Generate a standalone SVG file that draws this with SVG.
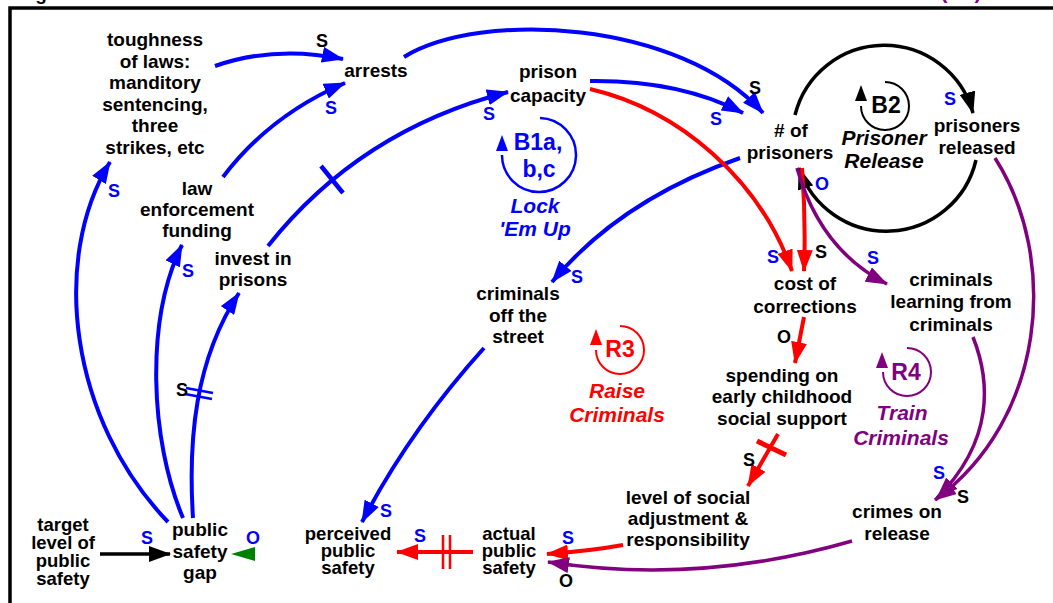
<svg xmlns="http://www.w3.org/2000/svg" width="1053" height="603" viewBox="0 0 1053 603">
<style>
text{font-family:"Liberation Sans",Arial,Helvetica,sans-serif;font-weight:bold;text-anchor:middle}
.n{font-size:19px;fill:#000}
.t{font-size:18.5px}
.lb{font-size:18px}
.lp{font-size:23px}
.it{font-size:21px;font-style:italic}
.kb{fill:#0000ff}.kk{fill:#000}.kr{fill:#ff0000}.kp{fill:#800080}
.cb{stroke:#0000ff;stroke-width:4;fill:none}
.cr{stroke:#ff0000;stroke-width:4;fill:none}
.cp{stroke:#800080;stroke-width:3.5;fill:none}
.ck{stroke:#000;stroke-width:3.5;fill:none}
</style>
<defs>
<marker id="mb" markerUnits="userSpaceOnUse" markerWidth="22" markerHeight="16" viewBox="0 0 22 16" refX="21" refY="8" orient="auto"><path d="M0,0 L22,8 L0,16 z" fill="#0000ff"/></marker>
<marker id="mr" markerUnits="userSpaceOnUse" markerWidth="22" markerHeight="16" viewBox="0 0 22 16" refX="21" refY="8" orient="auto"><path d="M0,0 L22,8 L0,16 z" fill="#ff0000"/></marker>
<marker id="mp" markerUnits="userSpaceOnUse" markerWidth="22" markerHeight="16" viewBox="0 0 22 16" refX="21" refY="8" orient="auto"><path d="M0,0 L22,8 L0,16 z" fill="#800080"/></marker>
<marker id="mk" markerUnits="userSpaceOnUse" markerWidth="22" markerHeight="16" viewBox="0 0 22 16" refX="21" refY="8" orient="auto"><path d="M0,0 L22,8 L0,16 z" fill="#000"/></marker>
</defs>
<rect width="1053" height="603" fill="#fff"/>
<rect x="10" y="8" width="1100" height="700" fill="none" stroke="#000" stroke-width="3.5"/>
<text x="41" y="0" class="n">g</text>
<text x="961" y="-1" class="n kp" style="font-size:21px">(R4)</text>

<g id="connectors">
<path class="cb" d="M215,66 Q275,45 343,59" marker-end="url(#mb)"/>
<path class="cb" d="M223,177 Q270,115 345,83" marker-end="url(#mb)"/>
<path class="cb" d="M404,57 C480,10 680,20 763,113" marker-end="url(#mb)"/>
<path class="cb" d="M590,81 Q680,80 743,113" marker-end="url(#mb)"/>
<path class="cb" d="M268,246 Q360,130 508,92" marker-end="url(#mb)"/>
<path d="M321,166 L343,193" stroke="#0000ff" stroke-width="4.5"/>
<path class="cb" d="M168,522 C70,420 50,260 110,162" marker-end="url(#mb)"/>
<path class="cb" d="M183,518 C150,440 145,320 182,245" marker-end="url(#mb)"/>
<path class="cb" d="M193,518 C188,440 195,360 239,293" marker-end="url(#mb)"/>
<path d="M186,388 L213,393 M185,394 L212,399" stroke="#0000ff" stroke-width="2.5"/>
<path class="cb" d="M740,158 Q620,200 552,282" marker-end="url(#mb)"/>
<path class="cb" d="M484,348 Q410,430 362,522" marker-end="url(#mb)"/>

<path class="ck" d="M795,115 A92,92 0 0 1 973,113" marker-end="url(#mk)"/>
<path class="ck" d="M976,160 A92,92 0 0 1 799,168" marker-end="url(#mk)"/>
<path class="ck" d="M100,554 L170,554" marker-end="url(#mk)"/>
<polygon points="231,554 255,547 255,561" fill="#008000"/>

<path class="cr" d="M473,552 L397,552" marker-end="url(#mr)"/>
<path d="M443,535 L443,569 M450,535 L450,569" stroke="#ff0000" stroke-width="2.5"/>
<path class="cr" d="M623,545 Q590,551 547,554" marker-end="url(#mr)"/>
<path class="cr" d="M778,434 L748,486" marker-end="url(#mr)"/>
<path d="M757,441 L786,455" stroke="#ff0000" stroke-width="5"/>
<path class="cr" d="M804,317 L795,363" marker-end="url(#mr)"/>
<path class="cr" d="M590,89 C680,110 760,180 792,271" marker-end="url(#mr)"/>
<path class="cr" d="M802,168 Q806,220 804,271" marker-end="url(#mr)"/>

<path class="cp" d="M852,541 Q700,585 548,562" marker-end="url(#mp)"/>
<path class="cp" d="M797,168 Q820,250 887,284" marker-end="url(#mp)"/>
<path class="cp" d="M995,158 C1060,260 1045,420 935,500" marker-end="url(#mp)"/>
<path class="cp" d="M973,337 C990,380 995,440 937,498" marker-end="url(#mp)"/>
</g>

<g id="polarity">
<text class="lb kk" x="322" y="47">S</text>
<text class="lb kb" x="331" y="114">S</text>
<text class="lb kb" x="114" y="197">S</text>
<text class="lb kb" x="188" y="277">S</text>
<text class="lb kk" x="182" y="396">S</text>
<text class="lb kb" x="147" y="544">S</text>
<text class="lb kb" x="253" y="544">O</text>
<text class="lb kb" x="489" y="120">S</text>
<text class="lb kk" x="755" y="94">S</text>
<text class="lb kb" x="716" y="125">S</text>
<text class="lb kb" x="950" y="105">S</text>
<text class="lb kb" x="822" y="190">O</text>
<text class="lb kb" x="577" y="283">S</text>
<text class="lb kb" x="386" y="517">S</text>
<text class="lb kb" x="420" y="542">S</text>
<text class="lb kb" x="568" y="544">S</text>
<text class="lb kk" x="566" y="587">O</text>
<text class="lb kb" x="773" y="263">S</text>
<text class="lb kk" x="821" y="258">S</text>
<text class="lb kb" x="873" y="264">S</text>
<text class="lb kk" x="784" y="343">O</text>
<text class="lb kk" x="749" y="466">S</text>
<text class="lb kb" x="939" y="479">S</text>
<text class="lb kk" x="963" y="503">S</text>
</g>

<g id="loop-B1">
<path d="M540,118 A37,37 0 1 1 502,155" fill="none" stroke="#0000ff" stroke-width="2.5"/>
<polygon points="502,135 496,151 508,151" fill="#0000ff"/>
<text class="lp kb" x="538" y="150">B1a,</text>
<text class="lp kb" x="539" y="177">b,c</text>
<text class="it kb" x="535" y="213">Lock</text>
<text class="it kb" x="535" y="236">'Em Up</text>
</g>
<g id="loop-B2">
<path d="M885,82 A24,24 0 1 1 861,106" fill="none" stroke="#000" stroke-width="2"/>
<polygon points="861,85 855,101 867,101" fill="#000"/>
<text class="lp kk" x="886" y="113">B2</text>
<text class="it kk" x="884" y="145">Prisoner</text>
<text class="it kk" x="884" y="168">Release</text>
</g>
<g id="loop-R3">
<path d="M620,326 A24,24 0 1 1 596,350" fill="none" stroke="#ff0000" stroke-width="2"/>
<polygon points="596,329 590,345 602,345" fill="#ff0000"/>
<text class="lp kr" x="620" y="357">R3</text>
<text class="it kr" x="617" y="398">Raise</text>
<text class="it kr" x="617" y="422">Criminals</text>
</g>
<g id="loop-R4">
<path d="M907,348 A24,24 0 1 1 883,372" fill="none" stroke="#800080" stroke-width="2"/>
<polygon points="882,352 876,368 888,368" fill="#800080"/>
<text class="lp kp" x="906" y="380">R4</text>
<text class="it kp" x="902" y="420">Train</text>
<text class="it kp" x="901" y="445">Criminals</text>
</g>

<g id="n_toughness"><text class="n"><tspan x="155" y="46">toughness</tspan><tspan x="155" y="68">of laws:</tspan><tspan x="155" y="89">manditory</tspan><tspan x="155" y="111">sentencing,</tspan><tspan x="155" y="132">three</tspan><tspan x="155" y="154">strikes, etc</tspan></text></g>
<g id="n_arrests"><text class="n" x="376" y="77">arrests</text></g>
<g id="n_capacity"><text class="n"><tspan x="548" y="78">prison</tspan><tspan x="548" y="102">capacity</tspan></text></g>
<g id="n_prisoners"><text class="n"><tspan x="791" y="137"># of</tspan><tspan x="790" y="159">prisoners</tspan></text></g>
<g id="n_released"><text class="n"><tspan x="977" y="132">prisoners</tspan><tspan x="977" y="154">released</tspan></text></g>
<g id="n_law"><text class="n"><tspan x="197" y="195">law</tspan><tspan x="197" y="216">enforcement</tspan><tspan x="197" y="237">funding</tspan></text></g>
<g id="n_invest"><text class="n"><tspan x="253" y="265">invest in</tspan><tspan x="253" y="286">prisons</tspan></text></g>
<g id="n_target"><text class="n t"><tspan x="63" y="531">target</tspan><tspan x="63" y="549">level of</tspan><tspan x="63" y="567">public</tspan><tspan x="63" y="585">safety</tspan></text></g>
<g id="n_gap"><text class="n"><tspan x="200" y="536">public</tspan><tspan x="200" y="558">safety</tspan><tspan x="200" y="579">gap</tspan></text></g>
<g id="n_perceived"><text class="n t"><tspan x="348" y="540">perceived</tspan><tspan x="348" y="557">public</tspan><tspan x="348" y="574">safety</tspan></text></g>
<g id="n_actual"><text class="n t"><tspan x="509" y="540">actual</tspan><tspan x="509" y="557">public</tspan><tspan x="509" y="574">safety</tspan></text></g>
<g id="n_offstreet"><text class="n"><tspan x="518" y="300">criminals</tspan><tspan x="518" y="322">off the</tspan><tspan x="518" y="343">street</tspan></text></g>
<g id="n_cost"><text class="n"><tspan x="805" y="290">cost of</tspan><tspan x="805" y="313">corrections</tspan></text></g>
<g id="n_learning"><text class="n"><tspan x="951" y="286">criminals</tspan><tspan x="951" y="308">learning from</tspan><tspan x="951" y="331">criminals</tspan></text></g>
<g id="n_spending"><text class="n"><tspan x="782" y="382">spending on</tspan><tspan x="782" y="403">early childhood</tspan><tspan x="782" y="425">social support</tspan></text></g>
<g id="n_adjust"><text class="n"><tspan x="688" y="504">level of social</tspan><tspan x="688" y="525">adjustment &amp;</tspan><tspan x="688" y="546">responsibility</tspan></text></g>
<g id="n_crimes"><text class="n"><tspan x="897" y="518">crimes on</tspan><tspan x="897" y="540">release</tspan></text></g>
</svg>
